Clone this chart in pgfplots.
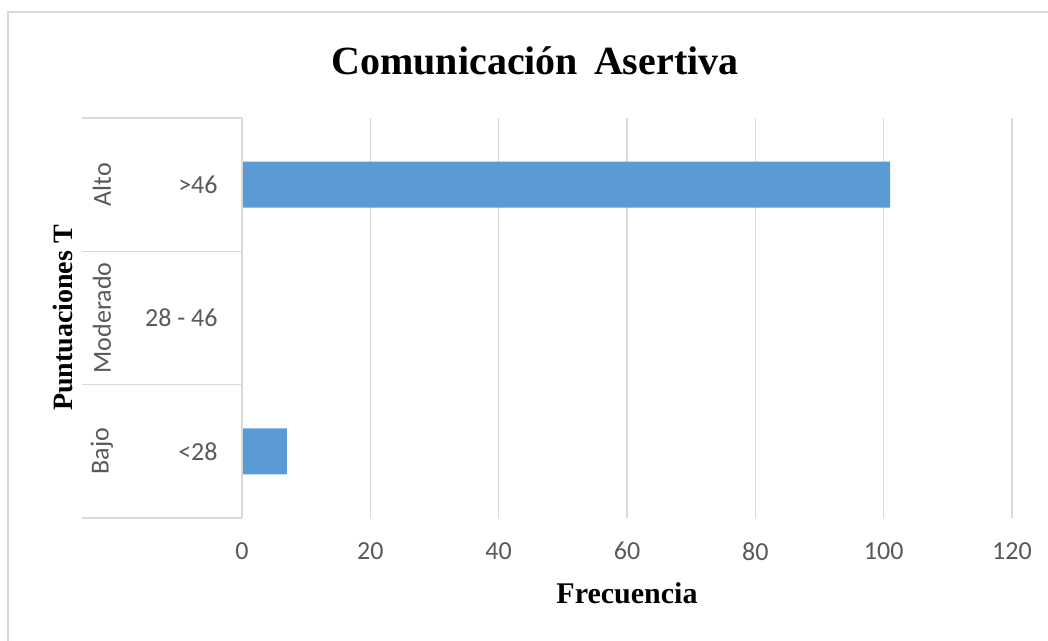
\documentclass[border=0pt]{standalone}
\usepackage{fontspec}
\setmainfont{Liberation Serif}
\newfontfamily\calibri{Carlito}
\usepackage{pgfplots}
\pgfplotsset{compat=1.18}
\definecolor{barblue}{HTML}{5B9BD5}
\definecolor{gridgray}{HTML}{D9D9D9}
\definecolor{txtgray}{HTML}{595959}
\begin{document}
\begin{tikzpicture}
\useasboundingbox (0,0) rectangle (524pt,320.5pt);
\fill[white] (0,0) rectangle (524pt,320.5pt);
\draw[gridgray, line width=1.2pt] (4pt,0) -- (4pt,314.5pt) -- (524pt,314.5pt);
\begin{axis}[
  at={(121pt,61.5pt)}, anchor=south west,
  scale only axis, width=385pt, height=200pt,
  xmin=0, xmax=120, ymin=-0.5, ymax=2.5,
  xbar, bar width=23pt,
  axis line style={draw=none},
  xtick={0,20,...,120}, ytick={0,1,2},
  yticklabels={<28, 28 - 46, >46},
  major tick length=0pt,
  xmajorgrids, grid style={gridgray, line width=0.8pt},
  tick label style={font=\calibri\fontsize{13}{15}\selectfont, text=txtgray},
  /pgf/number format/assume math mode=true,
  yticklabel style={anchor=east, inner sep=0pt, xshift=-12pt},
  xticklabel style={anchor=north, inner sep=0pt, yshift=-12pt},
  clip=false,
]
\addplot[fill=barblue, draw=none] coordinates {(7,0) (0,1) (101,2)};
\draw[gridgray, line width=0.8pt] ([xshift=-80pt]axis cs:0,-0.5) -- (axis cs:0,-0.5);
\draw[gridgray, line width=0.8pt] ([xshift=-80pt]axis cs:0,0.5) -- (axis cs:0,0.5);
\draw[gridgray, line width=0.8pt] ([xshift=-80pt]axis cs:0,1.5) -- (axis cs:0,1.5);
\draw[gridgray, line width=0.8pt] ([xshift=-80pt]axis cs:0,2.5) -- (axis cs:0,2.5);
\draw[gridgray, line width=0.8pt] (axis cs:0,-0.5) -- (axis cs:0,2.5);
\node[rotate=90, font=\calibri\fontsize{13}{15}\selectfont, text=txtgray] at ([xshift=-70pt]axis cs:0,2) {Alto};
\node[rotate=90, font=\calibri\fontsize{13}{15}\selectfont, text=txtgray] at ([xshift=-70pt]axis cs:0,1) {Moderado};
\node[rotate=90, font=\calibri\fontsize{13}{15}\selectfont, text=txtgray] at ([xshift=-70pt]axis cs:0,0) {Bajo};
\end{axis}
\node[rotate=90, font=\bfseries\fontsize{14}{16}\selectfont] at (31.5pt,161.5pt) {Puntuaciones T};
\node[font=\bfseries\fontsize{20}{24}\selectfont] at (267.5pt,290pt) {Comunicación\hspace{0.15em} Asertiva};
\node[font=\bfseries\fontsize{15}{18}\selectfont] at (313.5pt,24pt) {Frecuencia};
\end{tikzpicture}
\end{document}
